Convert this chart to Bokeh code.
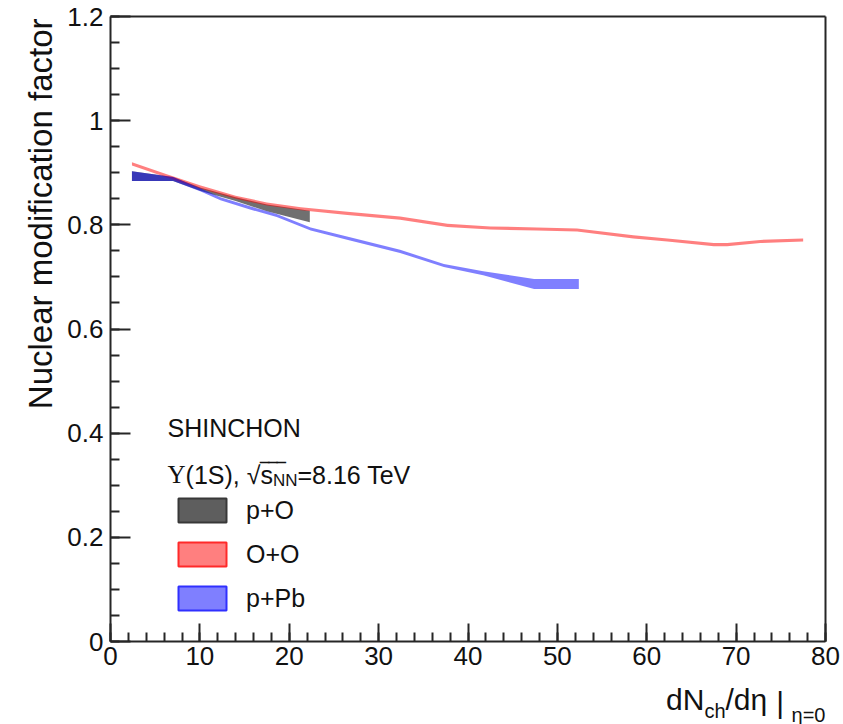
from math import pi
from bokeh.plotting import figure
from bokeh.models import (Range1d, FixedTicker, Label, Legend, LegendItem, LinearAxis,
                          ColumnDataSource)
from bokeh.embed import file_html
from bokeh.resources import INLINE

# ---------------- data ----------------
# p+O (grey band)
po_x  = [2.4, 7.0, 10.1, 14.0, 17.5, 22.3]
po_lo = [0.884, 0.884, 0.865, 0.846, 0.826, 0.805]
po_hi = [0.903, 0.892, 0.871, 0.853, 0.839, 0.827]

# O+O (red band)
oo_x  = [2.4, 6.3, 10.0, 14.0, 17.5, 21.3, 26.5, 32.4, 37.7, 42.5, 47.7, 52.2, 58.5, 62.3, 67.5, 69.0, 72.7, 77.5]
oo_lo = [0.914, 0.891, 0.870, 0.850, 0.837, 0.828, 0.819, 0.810, 0.796, 0.791, 0.789, 0.787, 0.774, 0.768, 0.759, 0.759, 0.765, 0.768]
oo_hi = [0.920, 0.897, 0.876, 0.856, 0.843, 0.834, 0.825, 0.816, 0.802, 0.797, 0.795, 0.793, 0.780, 0.774, 0.765, 0.765, 0.771, 0.774]

# p+Pb (blue band)
ppb_x  = [2.4, 7.0, 10.1, 12.3, 15.7, 18.6, 22.4, 26.8, 32.4, 37.3, 41.7, 47.4, 52.4]
ppb_lo = [0.884, 0.884, 0.864, 0.847, 0.829, 0.815, 0.789, 0.770, 0.746, 0.719, 0.703, 0.677, 0.677]
ppb_hi = [0.903, 0.892, 0.870, 0.853, 0.835, 0.821, 0.795, 0.776, 0.752, 0.725, 0.711, 0.696, 0.696]

series_names = ["p+O", "O+O", "p+Pb"]

x_major_ticks = [0, 10, 20, 30, 40, 50, 60, 70, 80]
x_tick_labels = ["0", "10", "20", "30", "40", "50", "60", "70", "80"]
y_major_ticks = [0, 0.2, 0.4, 0.6, 0.8, 1.0, 1.2]
y_tick_labels = ["0", "0.2", "0.4", "0.6", "0.8", "1", "1.2"]

# ---------------- layout ----------------
W, H = 843, 724
FONT = "Liberation Sans"
TXT = "#111111"
AX = "#262626"
X0, X1, Y0, Y1 = 0, 80, 0, 1.2
FL, FR, FT, FB = 110, 825, 16, 641   # axis box edges in canvas pixels

sx = (FR - FL) / (X1 - X0)
sy = (FB - FT) / (Y1 - Y0)
x_range = Range1d(X0 - FL / sx, X0 + (W - FL) / sx)
y_range = Range1d(Y0 - (H - FB) / sy, Y1 + FT / sy)

p = figure(width=W, height=H, x_range=x_range, y_range=y_range,
           x_axis_location=None, y_axis_location=None,
           output_backend="svg", toolbar_location=None, min_border=0)
p.grid.visible = False
p.outline_line_color = None
p.background_fill_color = "white"
p.border_fill_color = "white"

def dx(px):
    return X0 + (px - FL) / sx

def dy(py):
    return Y0 + (FB - py) / sy

def style_axis(ax):
    ax.axis_line_color = AX
    ax.axis_line_width = 2
    ax.major_tick_out = 0
    ax.minor_tick_out = 0
    ax.major_tick_line_color = AX
    ax.major_tick_line_width = 2
    ax.minor_tick_line_color = AX
    ax.minor_tick_line_width = 2
    ax.major_label_text_font = FONT
    ax.major_label_text_font_size = "26px"
    ax.major_label_text_color = TXT

xaxis = LinearAxis(fixed_location=Y0, bounds=(X0, X1),
                   ticker=FixedTicker(ticks=x_major_ticks, minor_ticks=list(range(0, 81, 2))),
                   major_label_overrides={t: s for t, s in zip(x_major_ticks, x_tick_labels)})
style_axis(xaxis)
xaxis.major_tick_in = 18
xaxis.minor_tick_in = 9
xaxis.major_label_standoff = 5
p.add_layout(xaxis, "below")

yaxis = LinearAxis(fixed_location=X0, bounds=(Y0, Y1),
                   ticker=FixedTicker(ticks=y_major_ticks, minor_ticks=[round(0.05 * i, 2) for i in range(25)]),
                   major_label_overrides={t: s for t, s in zip(y_major_ticks, y_tick_labels)})
style_axis(yaxis)
yaxis.major_tick_in = 20
yaxis.minor_tick_in = 9
yaxis.major_label_standoff = 7
p.add_layout(yaxis, "left")

# top and right edges of the ROOT frame (no ticks)
for loc, fixed, bnds in (("above", Y1, (X0, X1)), ("right", X1, (Y0, Y1))):
    ax = LinearAxis(fixed_location=fixed, bounds=bnds, ticker=FixedTicker(ticks=[]))
    ax.axis_line_color = AX
    ax.axis_line_width = 2
    ax.major_label_text_alpha = 0
    p.add_layout(ax, loc)

# ---------------- bands ----------------
p.varea(x=po_x, y1=po_lo, y2=po_hi, fill_color="#707070", fill_alpha=1.0)
p.varea(x=oo_x, y1=oo_lo, y2=oo_hi, fill_color="#ff0000", fill_alpha=0.5)
p.varea(x=ppb_x, y1=ppb_lo, y2=ppb_hi, fill_color="#0000ff", fill_alpha=0.5)

# ---------------- legend (box glyphs with coloured borders) ----------------
leg_styles = [("#5e5e5e", 1.0, "#383838"), ("#ff0000", 0.5, "#ff2a2a"), ("#0000ff", 0.5, "#3030ff")]
items = []
for name, xs, lo, hi, (fc, fa, lc) in zip(series_names, (po_x, oo_x, ppb_x), (po_lo, oo_lo, ppb_lo),
                                          (po_hi, oo_hi, ppb_hi), leg_styles):
    src = ColumnDataSource(data=dict(left=[min(xs)], right=[max(xs)], bottom=[min(lo)], top=[max(hi)]))
    r = p.quad(left="left", right="right", top="top", bottom="bottom", source=src,
               fill_color=fc, fill_alpha=fa, line_color=lc, line_width=2)
    r.visible = False
    items.append(LegendItem(label=name, renderers=[r]))

legend = Legend(items=items, location=(172, H - 613), orientation="vertical",
                glyph_width=60, glyph_height=30, label_height=30, label_width=40, spacing=14,
                padding=0, margin=0, border_line_alpha=0, background_fill_alpha=0,
                inactive_fill_alpha=0, click_policy="none",
                label_text_font=FONT, label_text_font_size="25px", label_text_color=TXT,
                label_standoff=14)
p.add_layout(legend)

def lab(text, px, py, size, offset=0, font=FONT, **kw):
    p.add_layout(Label(x=dx(px), y=dy(py), x_offset=offset, text=text,
                       text_font=font, text_font_size=f"{size}px", text_color=TXT,
                       text_baseline="alphabetic", **kw))

lab("SHINCHON", 167, 427, 25)

# second line: Υ(1S), √s_NN=8.16 TeV
F, S = 25, 17
off = 0
lab("Υ", 167, 474, F, off, font="Liberation Serif")
off += 0.722 * F
lab("(1S), √", 167, 474, F, off)
off += 2.994 * F
lab("s", 167, 474, F, off)
lab("‾‾‾", 167, 472, F, off)
off += 0.5 * F
lab("NN", 167, 480, S, off)
off += 1.444 * S
lab("=8.16 TeV", 167, 474, F, off)

# y axis title (right-aligned at the top, rotated)
p.add_layout(Label(x=dx(40), y=dy(18), text="Nuclear modification factor", angle=pi / 2,
                   text_align="right", text_baseline="alphabetic",
                   text_font=FONT, text_font_size="33px", text_color=TXT))

# x axis title: dN_ch/dη |_η=0, right-aligned at the end of the axis
M, Ss = 30, 20
pieces = [("dN", M, 699, 1.278 * M), ("ch", Ss, 710, 1.056 * Ss), ("/dη", M, 699, 1.391 * M + 0.3 * M),
          ("|", M, 702, 0.26 * M + 0.25 * M), ("η=0", Ss, 714, 1.697 * Ss)]
start = -sum(w for *_, w in pieces)
for t, sz, py, w in pieces:
    lab(t, FR, py, sz, start)
    start += w

open("out.html", "w").write(file_html(p, INLINE))
